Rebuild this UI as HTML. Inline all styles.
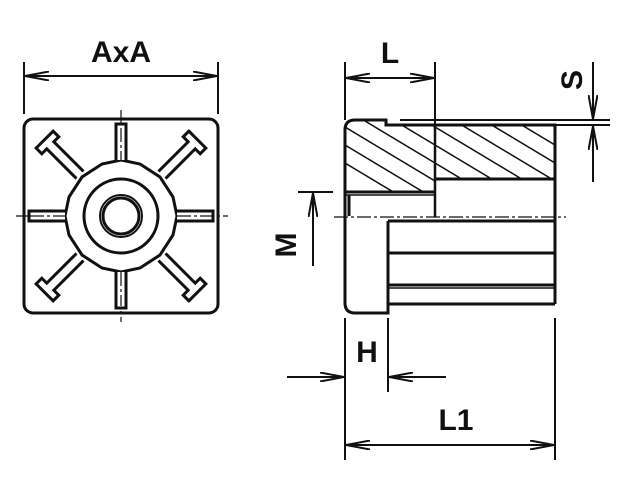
<!DOCTYPE html>
<html><head><style>html,body{margin:0;padding:0;background:#fff}svg{display:block}</style></head>
<body>
<svg width="624" height="492" viewBox="0 0 624 492" xmlns="http://www.w3.org/2000/svg" font-family="Liberation Sans, sans-serif" font-weight="bold">
<defs>
<marker id="a" viewBox="0 0 24 10" refX="24" refY="5" markerWidth="24" markerHeight="10" markerUnits="userSpaceOnUse" orient="auto-start-reverse">
<path d="M0,0.5 L24,5 L0,9.5" fill="none" stroke="#111" stroke-width="2"/>
</marker>
<clipPath id="h1"><path d="M345,121 H386 V125 H555 V179 H435 V192 H345 Z"/></clipPath>
</defs>
<g stroke="#111" fill="none" stroke-linecap="butt">
<line x1="24" y1="62" x2="24" y2="114" stroke-width="2"/>
<line x1="218" y1="62" x2="218" y2="114" stroke-width="2"/>
<line x1="25" y1="76" x2="217" y2="76" stroke-width="2" marker-start="url(#a)" marker-end="url(#a)"/>
<rect x="24" y="119" width="194" height="194" rx="9" stroke-width="3"/>
<g stroke-width="1.2" stroke-dasharray="14,3,3,3">
<line x1="16" y1="216" x2="228" y2="216"/><line x1="121" y1="110" x2="121" y2="322"/>
</g>
<polygon points="121,160 140,164 160,177 173,197 177,216 173,235 160,255 140,268 121,272 102,268 82,255 69,235 65,216 69,197 82,177 102,164" stroke-width="3" fill="#fff"/>
<circle cx="121" cy="216" r="37" stroke-width="3"/>
<circle cx="121" cy="216" r="21" stroke-width="2"/>
<circle cx="121" cy="216" r="18" stroke-width="3"/>
<g stroke-width="3" fill="#fff">
<path d="M116,160 V124 H126 V160"/>
<path d="M116,272 V308 H126 V272"/>
<path d="M65,211 H29 V221 H65"/>
<path d="M177,211 H213 V221 H177"/>
</g>
<g stroke-width="3">
<g transform="rotate(45 121 216)"><path d="M116,158 V116 H109 V108 H133 V116 H126 V158"/></g>
<g transform="rotate(-45 121 216)"><path d="M116,158 V116 H109 V108 H133 V116 H126 V158"/></g>
<g transform="rotate(135 121 216)"><path d="M116,158 V116 H109 V108 H133 V116 H126 V158"/></g>
<g transform="rotate(-135 121 216)"><path d="M116,158 V116 H109 V108 H133 V116 H126 V158"/></g>
</g>
<g stroke-width="1.2" stroke-dasharray="14,3,3,3">
<line x1="121" y1="128" x2="121" y2="160"/><line x1="121" y1="272" x2="121" y2="306"/>
<line x1="30" y1="216" x2="65" y2="216"/><line x1="177" y1="216" x2="212" y2="216"/>
</g>
<line x1="345" y1="62" x2="345" y2="120" stroke-width="2"/>
<line x1="435" y1="62" x2="435" y2="125" stroke-width="2"/>
<line x1="346" y1="78" x2="434" y2="78" stroke-width="2" marker-start="url(#a)" marker-end="url(#a)"/>
<line x1="400" y1="120" x2="610" y2="120" stroke-width="2"/>
<line x1="555" y1="125" x2="610" y2="125" stroke-width="2"/>
<line x1="593" y1="62" x2="593" y2="119" stroke-width="2" marker-end="url(#a)"/>
<line x1="593" y1="182" x2="593" y2="126" stroke-width="2" marker-end="url(#a)"/>
<g clip-path="url(#h1)" stroke-width="1.5">
<path d="M300,100 l200,120 M330,100 l200,120 M360,100 l200,120 M390,100 l200,120 M420,100 l200,120 M450,100 l200,120 M480,100 l200,120 M510,100 l200,120 M540,100 l200,120 M270,100 l200,120 M240,100 l200,120"/>
</g>
<path d="M355,120 H386 V125 H555 V304" stroke-width="3"/>
<path d="M355,120 Q345,120 345,130 V303 Q345,313 355,313 H388 V221" stroke-width="3"/>
<line x1="435" y1="125" x2="435" y2="217" stroke-width="2.5"/>
<line x1="435" y1="179" x2="555" y2="179" stroke-width="3"/>
<line x1="345" y1="192" x2="435" y2="192" stroke-width="3"/>
<line x1="345" y1="195" x2="435" y2="195" stroke-width="1.5"/>
<line x1="349" y1="195" x2="349" y2="216" stroke-width="3"/>
<line x1="388" y1="221" x2="555" y2="221" stroke-width="3"/>
<line x1="388" y1="253" x2="555" y2="253" stroke-width="3"/>
<line x1="388" y1="285" x2="555" y2="285" stroke-width="3"/>
<line x1="388" y1="288" x2="555" y2="288" stroke-width="1.5"/>
<line x1="388" y1="304" x2="555" y2="304" stroke-width="3"/>
<line x1="334" y1="217" x2="566" y2="217" stroke-width="1.2" stroke-dasharray="14,3,3,3"/>
<line x1="298" y1="192" x2="333" y2="192" stroke-width="2"/>
<line x1="313" y1="266" x2="313" y2="193" stroke-width="2" marker-end="url(#a)"/>
<line x1="345" y1="318" x2="345" y2="460" stroke-width="2"/>
<line x1="388" y1="318" x2="388" y2="392" stroke-width="2"/>
<line x1="555" y1="318" x2="555" y2="460" stroke-width="2"/>
<line x1="287" y1="377" x2="344" y2="377" stroke-width="2" marker-end="url(#a)"/>
<line x1="446" y1="377" x2="389" y2="377" stroke-width="2" marker-end="url(#a)"/>
<line x1="346" y1="445" x2="554" y2="445" stroke-width="2" marker-start="url(#a)" marker-end="url(#a)"/>
</g>
<g fill="#111" font-size="30" text-anchor="middle">
<text x="121" y="62">AxA</text>
<text x="390" y="63">L</text>
<text x="367" y="362">H</text>
<text x="456" y="430">L1</text>
<text transform="translate(296,245) rotate(-90)">M</text>
<text transform="translate(582,80) rotate(-90)">S</text>
</g>
</svg>
</body></html>
